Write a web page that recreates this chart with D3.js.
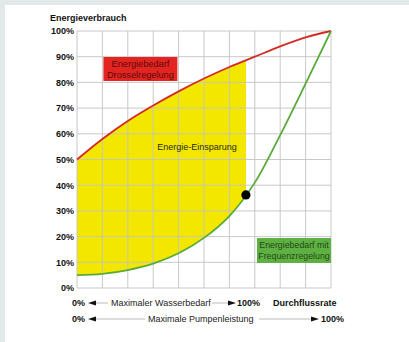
<!DOCTYPE html>
<html><head><meta charset="utf-8">
<script src="https://cdn.jsdelivr.net/npm/d3@7"></script>
<style>html,body{margin:0;padding:0;background:#fff;}svg{display:block;font-family:"Liberation Sans",Arial,sans-serif;}</style>
</head><body><svg id="c" width="409" height="342"></svg>
<script>
// Data
const flow = [0, 0.1, 0.2, 0.3, 0.4, 0.5, 0.6, 0.7, 0.8, 0.9, 1.0];
const drossel = [50, 58, 65, 71, 76.5, 81.5, 86, 90, 94, 97.5, 100];
const frequenz = [5, 5.5, 7, 9.5, 13.5, 19.5, 28, 41, 59.5, 79.5, 100];
const yTicks = [0, 10, 20, 30, 40, 50, 60, 70, 80, 90, 100];
const xGrid = [0, 0.1, 0.2, 0.3, 0.4, 0.5, 0.6, 0.7, 0.8, 0.9, 1.0];
const operatingPoint = [0.665, 36.2];
const texts = {
  yTitle: "Energieverbrauch",
  redBox: ["Energiebedarf", "Drosselregelung"],
  greenBox: ["Energiebedarf mit", "Frequenzregelung"],
  saving: "Energie-Einsparung",
  row1: "Maximaler Wasserbedarf",
  row2: "Maximale Pumpenleistung",
  flowLabel: "Durchflussrate"
};

const svg = d3.select("#c");
const W = 409, H = 342;
svg.append("rect").attr("x",0).attr("y",0).attr("width",W).attr("height",5).attr("fill","#e3e9e9");
svg.append("rect").attr("x",0).attr("y",0).attr("width",5).attr("height",H).attr("fill","#e3e9e9");

const x = d3.scaleLinear().domain([0,1]).range([77,331]);
const y = d3.scaleLinear().domain([0,100]).range([288,31]);

const pts = flow.map((f,i)=>({f, r: drossel[i], g: frequenz[i]}));
const curve = d3.curveCatmullRom.alpha(0.5);

// clip for the saving area
svg.append("clipPath").attr("id","clipSave").append("rect")
  .attr("x", x(0)).attr("y", y(100)).attr("width", x(operatingPoint[0]) - x(0)).attr("height", y(0)-y(100));

svg.append("path").datum(pts)
  .attr("clip-path","url(#clipSave)")
  .attr("fill","#f3e700")
  .attr("d", d3.area().x(d=>x(d.f)).y0(d=>y(d.g)).y1(d=>y(d.r)).curve(curve));

// grid
const g = svg.append("g");
g.selectAll("line.v").data(xGrid).join("line")
  .attr("x1",d=>x(d)).attr("x2",d=>x(d)).attr("y1",y(0)).attr("y2",y(100))
  .attr("stroke","#c4c4c4").attr("stroke-width",1).attr("opacity",0.9);
g.selectAll("line.h").data(yTicks).join("line")
  .attr("y1",d=>y(d)).attr("y2",d=>y(d)).attr("x1",x(0)).attr("x2",x(1))
  .attr("stroke","#c4c4c4").attr("stroke-width",1).attr("opacity",0.9);

// y axis labels
const yAxis = d3.axisLeft(y).tickValues(yTicks).tickFormat(d=>d+"%").tickSize(0).tickPadding(3);
const ya = svg.append("g").attr("transform",`translate(${x(0)},0)`).call(yAxis);
ya.select(".domain").remove();
ya.selectAll("text").attr("font-size",9).attr("font-weight","bold").attr("fill","#111")
  .attr("font-family","'Liberation Sans',Arial,sans-serif");

svg.append("text").attr("x",50).attr("y",21).text(texts.yTitle)
  .attr("font-size",9).attr("font-weight","bold").attr("fill","#111");

// curves
svg.append("path").datum(pts).attr("fill","none").attr("stroke","#d42a26").attr("stroke-width",1.8)
  .attr("d", d3.line().x(d=>x(d.f)).y(d=>y(d.r)).curve(curve));
svg.append("path").datum(pts).attr("fill","none").attr("stroke","#5aaa3a").attr("stroke-width",1.8)
  .attr("d", d3.line().x(d=>x(d.f)).y(d=>y(d.g)).curve(curve));

// operating point
svg.append("circle").attr("cx",x(operatingPoint[0])).attr("cy",y(operatingPoint[1])).attr("r",4.6).attr("fill","#000");

// red box
const rb = svg.append("g");
rb.append("rect").attr("x",x(0.1)+1).attr("y",57).attr("width",74).attr("height",24).attr("fill","#e42420");
rb.selectAll("text").data(texts.redBox).join("text")
  .attr("x",x(0.1)+1+37).attr("y",(d,i)=>67+i*10.5).attr("text-anchor","middle")
  .attr("font-size",9.2).attr("fill","#5a0c0a").text(d=>d);

// green box
const gb = svg.append("g");
gb.append("rect").attr("x",257).attr("y",238).attr("width",74).attr("height",25).attr("fill","#5fb043");
gb.selectAll("text").data(texts.greenBox).join("text")
  .attr("x",294).attr("y",(d,i)=>248+i*10.5).attr("text-anchor","middle")
  .attr("font-size",8.8).attr("fill","#1f4a16").text(d=>d);

// saving label
svg.append("text").attr("x",197).attr("y",150).attr("text-anchor","middle")
  .attr("font-size",9).attr("fill","#2a2a00").text(texts.saving);

// bottom rows
function leftArrow(tipX, cy){ return `M${tipX},${cy} L${tipX+8},${cy-2.6} L${tipX+8},${cy+2.6} Z`; }
function rightArrow(tipX, cy){ return `M${tipX},${cy} L${tipX-8},${cy-2.6} L${tipX-8},${cy+2.6} Z`; }
const bot = svg.append("g").attr("font-size",9);
function row(cy, label, textStart, textEnd, rightTip, pctX){
  bot.append("text").attr("x",72).attr("y",cy+3).attr("font-weight","bold").attr("fill","#111").text("0%");
  bot.append("path").attr("d",leftArrow(88,cy)).attr("fill","#111");
  bot.append("line").attr("x1",96).attr("x2",textStart-3).attr("y1",cy).attr("y2",cy).attr("stroke","#aaa").attr("stroke-width",0.8);
  bot.append("text").attr("x",textStart).attr("y",cy+3).attr("fill","#222").text(label);
  bot.append("line").attr("x1",textEnd+3).attr("x2",rightTip-8).attr("y1",cy).attr("y2",cy).attr("stroke","#aaa").attr("stroke-width",0.8);
  bot.append("path").attr("d",rightArrow(rightTip,cy)).attr("fill","#111");
  bot.append("text").attr("x",pctX).attr("y",cy+3).attr("font-weight","bold").attr("fill","#111").text("100%");
}
row(303, texts.row1, 111, 209, 236, 237);
row(319, texts.row2, 148, 256, 319, 321);
bot.append("text").attr("x",273).attr("y",306).attr("font-weight","bold").attr("fill","#111").text(texts.flowLabel);
</script></body></html>
